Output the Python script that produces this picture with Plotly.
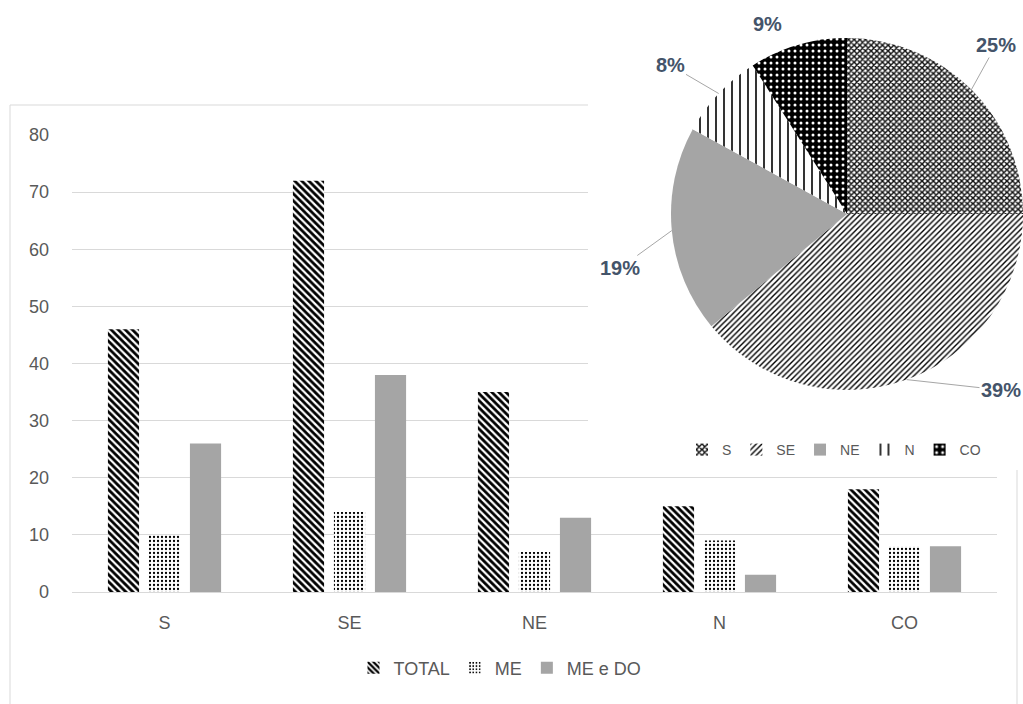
import numpy as np
import plotly.graph_objects as go

# ---- data ----
categories = ["S", "SE", "NE", "N", "CO"]
total = [46, 72, 35, 15, 18]
me = [10, 14, 7, 9, 8]
me_do = [26, 38, 13, 3, 8]

pie_labels = ["S", "SE", "NE", "N", "CO"]
pie_pct = [25, 39, 19, 8, 9]

W, H = 1023, 704
FONT = "Liberation Sans"
GRAY_TXT = "#595959"
GRID = "#d9d9d9"

# plot area in pixels
PL, PR, PT, PB = 72, 997, 135, 592

fig = go.Figure()

fig.add_trace(go.Bar(
    x=categories, y=total, name="TOTAL",
    marker=dict(color="white", line=dict(width=0),
                pattern=dict(shape="\\", fgcolor="black", bgcolor="white", fgopacity=1,
                             size=5, solidity=0.55, fillmode="overlay")),
))
fig.add_trace(go.Bar(
    x=categories, y=me, name="ME",
    marker=dict(color="white", line=dict(width=0),
                pattern=dict(shape=".", fgcolor="black", bgcolor="white", fgopacity=1,
                             size=4, solidity=0.25, fillmode="overlay")),
))
fig.add_trace(go.Bar(
    x=categories, y=me_do, name="ME e DO",
    marker=dict(color="#a5a5a5", line=dict(width=0)),
))

# helper subplot used as the white background of the pie inset
fig.add_trace(go.Scatter(x=[], y=[], xaxis="x2", yaxis="y2", showlegend=False,
                         hoverinfo="skip"))

# ---- pie geometry (pixels) ----
CX, CY, R = 847, 214, 176
fig.add_trace(go.Pie(
    labels=pie_labels, values=pie_pct, sort=False, direction="clockwise",
    rotation=0, textinfo="none", hoverinfo="label+percent",
    legend="legend2",
    domain=dict(x=[(CX - R) / W, (CX + R) / W], y=[1 - (CY + R) / H, 1 - (CY - R) / H]),
    marker=dict(
        colors=["white", "white", "#a5a5a5", "white", "black"],
        line=dict(width=0),
        pattern=dict(
            shape=["x", "/", "", "|", "."],
            fgcolor=["#111111", "black", "#a5a5a5", "black", "white"],
            bgcolor=["white", "white", "#a5a5a5", "white", "black"],
            fgopacity=1,
            size=[4, 4, 8, 8, 6],
            solidity=[0.6, 0.35, 0.3, 0.2, 0.2],
            fillmode="overlay",
        ),
    ),
))

# pie labels with leader lines
label_px = [(996, 45), (1001, 390), (620, 268), (670, 65), (767, 24)]
show_line = [True, True, True, True, False]
vals = np.array(pie_pct, dtype=float)
cum = np.cumsum(vals) / vals.sum() * 360.0
mid = cum - vals / vals.sum() * 180.0
annotations = []
for i, a in enumerate(mid):
    t = np.deg2rad(a)
    px = CX + R * np.sin(t)
    py = CY - R * np.cos(t)
    lx, ly = label_px[i]
    txt = f"<b>{pie_pct[i]}%</b>"
    fnt = dict(family=FONT, size=20, color="#44546a")
    if show_line[i]:
        annotations.append(dict(
            x=px / W, y=1 - py / H, xref="paper", yref="paper",
            ax=lx - px, ay=ly - py, text=txt,
            showarrow=True, arrowhead=0, arrowwidth=1, arrowcolor="#a6a6a6",
            font=fnt,
        ))
    else:
        annotations.append(dict(
            x=lx / W, y=1 - ly / H, xref="paper", yref="paper",
            xanchor="center", yanchor="middle",
            text=txt, showarrow=False, font=fnt,
        ))

shapes = [
    # outer chart border
    dict(type="rect", xref="paper", yref="paper",
         x0=10 / W, x1=1017 / W, y0=-0.05, y1=1 - 105 / H,
         line=dict(color=GRID, width=1), fillcolor="rgba(0,0,0,0)", layer="below"),
    # white inset background for the pie (drawn in the x2y2 subplot, above xy)
    dict(type="rect", xref="x2", yref="y2", x0=0, x1=1, y0=0, y1=1,
         line=dict(width=0), fillcolor="white", layer="below"),
]

fig.update_layout(
    width=W, height=H,
    margin=dict(l=0, r=0, t=0, b=0),
    paper_bgcolor="white", plot_bgcolor="white",
    font=dict(family=FONT, size=18, color=GRAY_TXT),
    barmode="group", bargap=0.335, bargroupgap=0.24,
    showlegend=True,
    legend=dict(orientation="h", x=500 / W, y=1 - 668 / H, xanchor="center",
                yanchor="middle", font=dict(size=18, color=GRAY_TXT),
                bgcolor="rgba(0,0,0,0)", itemwidth=30, traceorder="normal"),
    legend2=dict(orientation="h", x=834 / W, y=1 - 450 / H, xanchor="center",
                 yanchor="middle", font=dict(size=14, color=GRAY_TXT),
                 bgcolor="rgba(0,0,0,0)", itemwidth=30, traceorder="normal"),
    xaxis=dict(domain=[PL / W, PR / W], anchor="y",
               showline=True, linecolor=GRID, linewidth=1, showgrid=False,
               ticks="", ticklabelstandoff=14, automargin=False,
               tickfont=dict(size=18, color=GRAY_TXT)),
    yaxis=dict(domain=[1 - PB / H, 1 - PT / H], anchor="x",
               range=[0, 80], dtick=10, showgrid=True, gridcolor=GRID, gridwidth=1,
               zeroline=False, showline=False, ticks="", ticklabelstandoff=22,
               automargin=False, tickfont=dict(size=18, color=GRAY_TXT)),
    xaxis2=dict(domain=[588 / W, 1.0], anchor="y2", range=[0, 1], visible=False,
                fixedrange=True),
    yaxis2=dict(domain=[1 - 470 / H, 1.0], anchor="x2", range=[0, 1], visible=False,
                fixedrange=True),
    shapes=shapes,
    annotations=annotations,
)

fig.write_html("out.html")
